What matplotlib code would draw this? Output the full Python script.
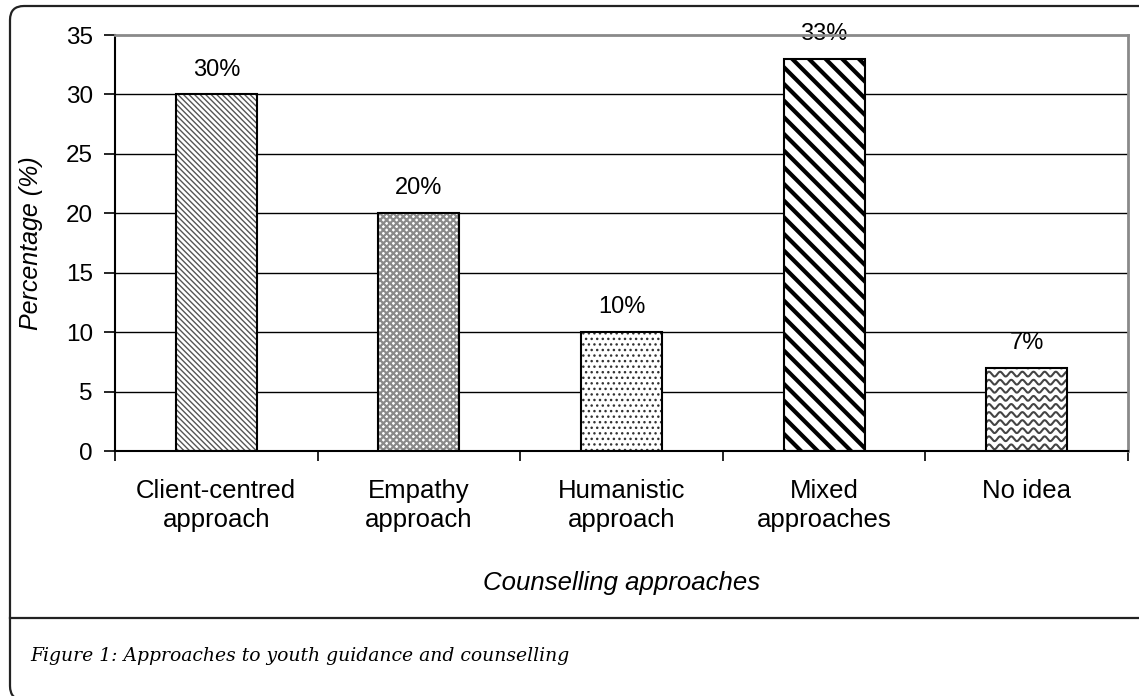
import numpy as np
import matplotlib
matplotlib.use("Agg")
import matplotlib.pyplot as plt
from matplotlib.patches import FancyBboxPatch
from matplotlib.lines import Line2D

# Data
categories = ["Client-centred\napproach", "Empathy\napproach", "Humanistic\napproach",
              "Mixed\napproaches", "No idea"]
percentages = [30, 20, 10, 33, 7]
value_labels = ["30%", "20%", "10%", "33%", "7%"]

# Hatch style per bar: (hatch, hatch colour, hatch linewidth)
hatch_styles = [
    ("\\\\\\\\\\\\", "#555555", 1.0),
    ("xxxxx", "#8a8a8a", 1.6),
    ("...", "#333333", 1.0),
    ("\\\\", "#000000", 3.0),
    (None, "#444444", 1.5),   # wavy, drawn by hand below
]

plt.rcParams['font.family'] = ['Liberation Sans', 'DejaVu Sans']

fig = plt.figure(figsize=(11.39, 6.96), dpi=100)
ax = fig.add_axes([115 / 1139, 1 - 451 / 696, (1128 - 115) / 1139, (451 - 35) / 696])

x = np.arange(len(categories))
bar_w = 0.4

# horizontal gridlines
for yv in range(5, 35, 5):
    ax.axhline(yv, color="black", lw=1.0, zorder=1)

bars = []
for i, (val, (hatch, hcol, hlw)) in enumerate(zip(percentages, hatch_styles)):
    if hatch is not None:
        with plt.rc_context({"hatch.linewidth": hlw}):
            hb = ax.bar(x[i], val, bar_w, color="white", edgecolor=hcol,
                        hatch=hatch, linewidth=0, zorder=2)
        for p in hb:
            if hasattr(p, "set_hatch_linewidth"):
                p.set_hatch_linewidth(hlw)
    else:
        ax.bar(x[i], val, bar_w, color="white", linewidth=0, zorder=2)
    ob = ax.bar(x[i], val, bar_w, fill=False, edgecolor="black", linewidth=1.5, zorder=4)
    bars.append(ob[0])

# wavy hatch for the "No idea" bar, clipped to the bar outline
wb = bars[4]
x0, w, h = wb.get_x(), wb.get_width(), wb.get_height()
xs = np.linspace(x0, x0 + w, 400)
for base in np.arange(0.35, h + 0.5, 0.68):
    ln, = ax.plot(xs, base + 0.2 * np.sin(2 * np.pi * (xs - x0) / 0.055),
                  color=hatch_styles[4][1], lw=hatch_styles[4][2], zorder=3)
    ln.set_clip_path(wb)

# value labels
for b, lab in zip(bars, value_labels):
    ax.annotate(lab, (b.get_x() + b.get_width() / 2, b.get_height()),
                xytext=(0, 10), textcoords="offset points",
                ha="center", va="bottom", fontsize=17, zorder=1)

ax.set_xlim(-0.5, len(categories) - 0.5)
ax.set_ylim(0, 35)
ax.set_yticks(range(0, 36, 5))
ax.set_xticks(x)
ax.set_xticklabels(categories, fontsize=18.5, linespacing=1.3)
ax.set_xticks(np.arange(-0.5, len(categories), 1.0), minor=True)
ax.tick_params(axis="x", which="major", length=0, pad=20)
ax.tick_params(axis="x", which="minor", length=7, width=1.2, direction="out")
ax.tick_params(axis="y", labelsize=17.5, length=8, width=1.2, pad=8)

for s in ["left", "bottom"]:
    ax.spines[s].set_color("black")
    ax.spines[s].set_linewidth(1.5)
for s in ["top", "right"]:
    ax.spines[s].set_color("#8a8a8a")
    ax.spines[s].set_linewidth(2.0)

ax.set_ylabel("Percentage (%)", fontsize=18, style="italic", labelpad=16)
ax.set_xlabel("Counselling approaches", fontsize=18.5, style="italic", labelpad=28)

# outer frame with rounded corners and caption divider (in pixels)
frame = FancyBboxPatch((10, -4), 1300, 694, boxstyle="round,pad=0,rounding_size=14",
                       transform=None, fill=False, edgecolor="#222222", lw=1.6,
                       clip_on=False)
fig.patches.append(frame)
fig.lines.append(Line2D([10 / 1139, 1.0], [1 - 618 / 696, 1 - 618 / 696],
                        transform=fig.transFigure, color="#222222", lw=1.6))

fig.text(30 / 1139, 1 - 656 / 696, "Figure 1: Approaches to youth guidance and counselling",
         family=["DejaVu Serif"], style="italic", fontsize=13.5, va="center", ha="left")

fig.savefig("out.png", dpi=100)
